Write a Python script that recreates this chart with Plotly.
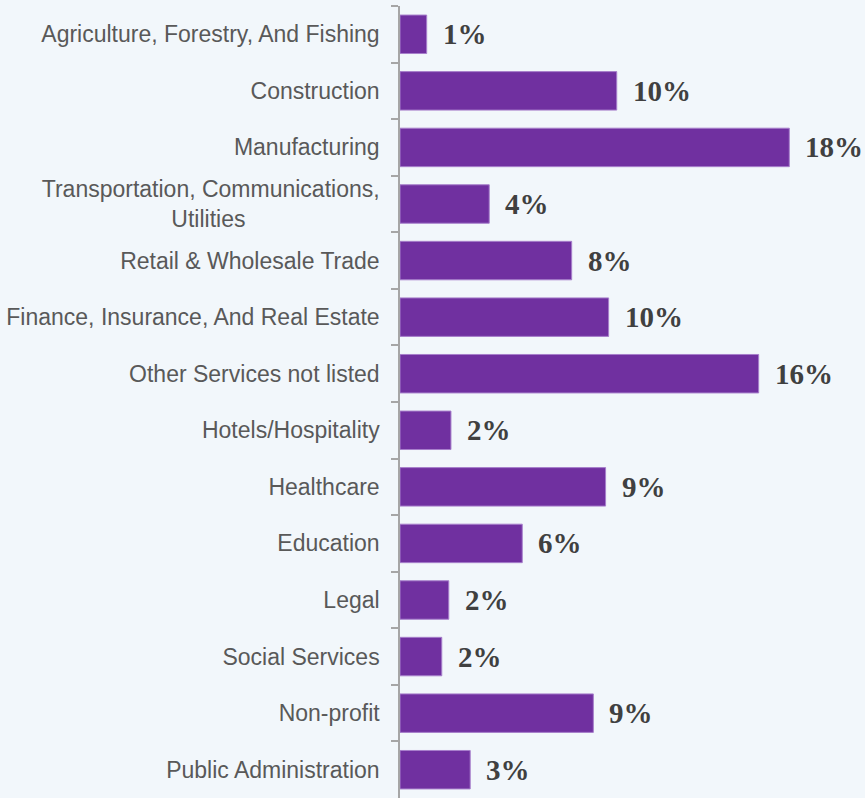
import plotly.graph_objects as go

# Share of respondents by industry sector (%)
categories = [
    "Agriculture, Forestry, And Fishing",
    "Construction",
    "Manufacturing",
    "Transportation, Communications,<br>Utilities" + "\u00a0" * 21,
    "Retail & Wholesale Trade",
    "Finance, Insurance, And Real Estate",
    "Other Services not listed",
    "Hotels/Hospitality",
    "Healthcare",
    "Education",
    "Legal",
    "Social Services",
    "Non-profit",
    "Public Administration",
]
values = [1.22, 9.91, 17.8, 4.08, 7.85, 9.54, 16.4, 2.33, 9.40, 5.59, 2.23, 1.91, 8.84, 3.21]

BG = "#f2f7fb"
BAR = "#7030a0"

fig = go.Figure(
    go.Bar(
        x=values,
        y=categories,
        orientation="h",
        marker=dict(color=BAR, line=dict(color="#a77fcb", width=1)),
        hoverinfo="x+y",
    )
)

# value labels to the right of each bar
for cat, v in zip(categories, values):
    fig.add_annotation(
        x=v, y=cat, text=f"<b>{v:.0f}%</b>", showarrow=False,
        xanchor="left", yanchor="middle", xshift=14,
        font=dict(family="Liberation Serif", size=29, color="#404040"),
    )

fig.update_layout(
    width=865, height=798,
    margin=dict(l=400, r=0, t=6, b=0),
    paper_bgcolor=BG, plot_bgcolor=BG,
    bargap=0.32,
    showlegend=False,
)
fig.update_xaxes(
    range=[0, 465 / 21.87], showgrid=False, zeroline=False,
    showticklabels=False, ticks="", showline=False, fixedrange=True,
)
fig.update_yaxes(
    autorange="reversed", showgrid=False, zeroline=False,
    showline=True, linecolor="#a6a6a6", linewidth=1.5,
    ticks="outside", tickson="boundaries", ticklen=7, tickcolor="#a6a6a6", tickwidth=1.5,
    ticklabelstandoff=14,
    tickfont=dict(family="Liberation Sans", size=23, color="#595959"),
)

fig.write_html("out.html")
